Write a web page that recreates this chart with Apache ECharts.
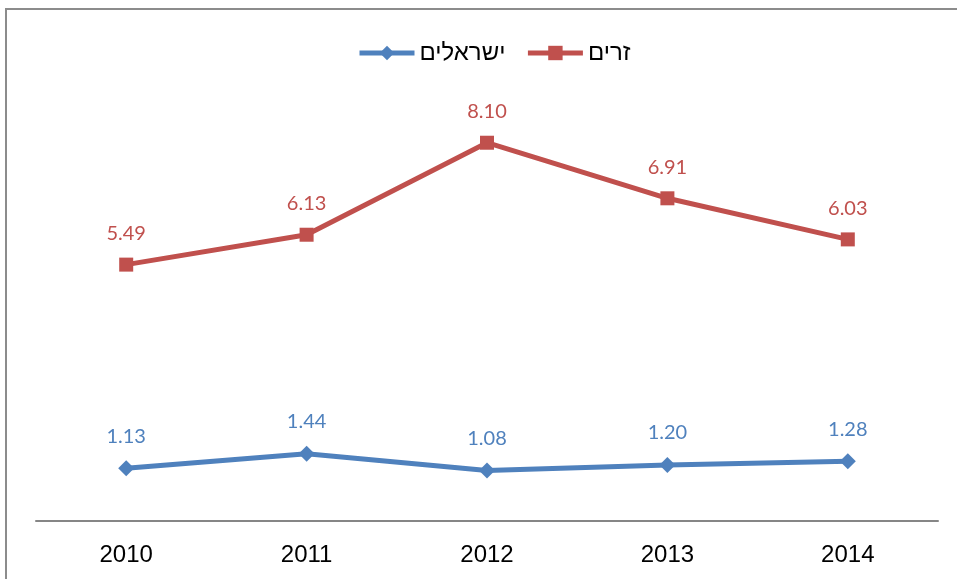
<!DOCTYPE html>
<html>
<head>
<meta charset="utf-8">
<script src="https://cdn.jsdelivr.net/npm/echarts@6/dist/echarts.min.js"></script>
<style>
  html, body { margin: 0; padding: 0; background: #fff; }
  #main { width: 957px; height: 579px; }
</style>
</head>
<body>
<div id="main"></div>
<script>
// data
var years = ["2010", "2011", "2012", "2013", "2014"];
var israelis = [1.13, 1.44, 1.08, 1.20, 1.28];
var foreigners = [5.49, 6.13, 8.10, 6.91, 6.03];
var seriesNames = ["ישראלים", "זרים"];

var blue = "#4F81BD";
var red = "#C0504D";

var chart = echarts.init(document.getElementById("main"));

function lineSeries(name, data, color, symbol, size) {
  return {
    name: name,
    type: "line",
    data: data,
    symbol: symbol,
    symbolSize: size,
    showAllSymbol: true,
    lineStyle: { color: color, width: 5 },
    itemStyle: { color: color },
    label: {
      show: true,
      position: "top",
      distance: 14,
      color: color,
      fontFamily: "Lato",
      fontSize: 20,
      formatter: function (p) { return p.value.toFixed(2); }
    },
    emphasis: { disabled: true },
    animation: false
  };
}

var option = {
  backgroundColor: "#fff",
  animation: false,
  graphic: [{
    type: "rect",
    shape: { x: 6, y: 9, width: 1000, height: 600 },
    style: { fill: "none", stroke: "#8c8c8c", lineWidth: 2 },
    silent: true
  }],
  legend: {
    top: 36,
    left: 352,
    itemWidth: 55,
    itemHeight: 18,
    itemGap: 20,
    lineStyle: { width: 5 },
    textStyle: { fontFamily: "Liberation Sans", fontSize: 24, color: "#000" },
    data: seriesNames
  },
  grid: { left: 36, right: 19, top: 54, bottom: 58, containLabel: false },
  xAxis: {
    type: "category",
    data: years,
    boundaryGap: true,
    axisLine: { lineStyle: { color: "#868686", width: 2 } },
    axisTick: { show: false },
    axisLabel: { fontFamily: "Liberation Sans", fontSize: 24, color: "#000", margin: 22 }
  },
  yAxis: {
    type: "value",
    min: 0,
    max: 10,
    show: false,
    splitLine: { show: false }
  },
  series: [
    lineSeries(seriesNames[0], israelis, blue, "diamond", 16),
    lineSeries(seriesNames[1], foreigners, red, "rect", 14)
  ]
};

chart.setOption(option);
</script>
</body>
</html>
